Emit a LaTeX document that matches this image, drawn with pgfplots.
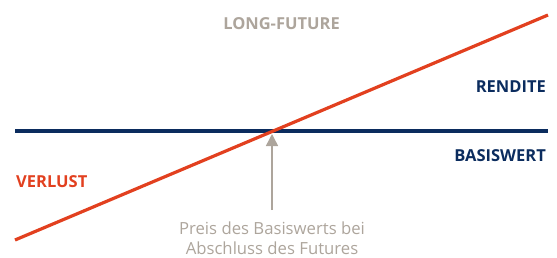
\documentclass[border=0pt]{standalone}
\usepackage{pgfplots}
\pgfplotsset{compat=1.18}
\usepackage{fontspec}
\setmainfont{Open Sans}
\usetikzlibrary{arrows.meta}
\definecolor{redl}{HTML}{E2401F}
\definecolor{navy}{HTML}{0B2C5E}
\definecolor{greyt}{HTML}{ADA59C}
\begin{document}
\begin{tikzpicture}
\begin{axis}[
  scale only axis, width=557bp, height=255bp,
  xmin=0, xmax=557, ymin=0, ymax=255, y dir=reverse,
  hide axis, clip=false,
]
\path (axis cs:0,0) rectangle (axis cs:557,255);
% Basiswert
\addplot[navy, line width=3.2bp] coordinates {(15,131) (548,131)};
% Long future
\addplot[redl, line width=3.2bp] coordinates {(15,240) (548,15)};
% arrow
\addplot[greyt, line width=1.5bp, -{Triangle[width=12bp,length=12bp]}] coordinates {(272,210) (272,134)};
\node[greyt, font=\fontsize{16.5bp}{19bp}\selectfont\bfseries] at (axis cs:281.5,24) {LONG-FUTURE};
\node[navy, font=\fontsize{16.5bp}{19bp}\selectfont\bfseries, anchor=east, inner sep=0pt] at (axis cs:546,86.5) {RENDITE};
\node[navy, font=\fontsize{16.5bp}{19bp}\selectfont\bfseries, anchor=east, inner sep=0pt] at (axis cs:546,155.5) {BASISWERT};
\node[redl, font=\fontsize{16.5bp}{19bp}\selectfont\bfseries, anchor=west, inner sep=0pt] at (axis cs:16,182) {VERLUST};
\node[greyt, font=\fontsize{16.7bp}{19.5bp}\selectfont, align=center] at (axis cs:272,238) {Preis des Basiswerts bei\\Abschluss des Futures};
\end{axis}
\end{tikzpicture}
\end{document}
